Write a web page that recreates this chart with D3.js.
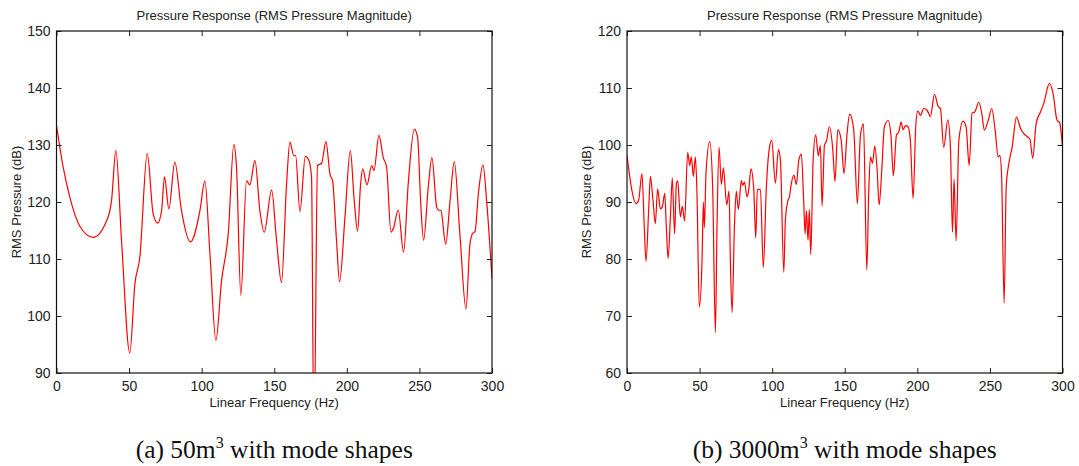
<!DOCTYPE html>
<html>
<head>
<meta charset="utf-8">
<script src="https://cdn.jsdelivr.net/npm/d3@7"></script>
<style>
  body { margin: 0; background: #fff; }
  svg text { font-family: "Liberation Sans", Arial, sans-serif; fill: #222; }
  .caption { font-family: "Liberation Serif", "DejaVu Serif", serif; fill: #111; }
</style>
</head>
<body>
<div id="chart"></div>
<script>
// readings: frequency (Hz) and RMS pressure (dB)
let freqA = [0, 4.6, 9.2, 16, 25.3, 34.5, 37.9, 40.9, 44.8, 50.5, 54, 57.4, 62.5, 66.6, 69.6, 72.4, 74.4, 77.4, 81.5,
    86.1, 92.3, 98.8, 102.2, 105.7, 109.8, 113.7, 118.3, 122.2, 124, 127, 130.9, 133.2, 136.7, 140.1, 143.1, 148.2,
    151.6, 155, 158.5, 160.8, 163.5, 164.7, 167.7, 171.4, 173.9, 175.7, 177.2, 177.5, 179.8, 182.6, 185.6, 188.4,
    190.2, 192.9, 195, 198.7, 202.4, 205.1, 207.4, 209.5, 210.9, 213.9, 217.1, 218.7, 222.1, 225.1, 227.4, 230.4,
    232, 235.4, 239.1, 242.3, 246.5, 248.8, 250.8, 252.9, 256.1, 258.6, 261.9, 263, 264.8, 268.1, 271.1, 274,
    277.9, 282.1, 284.8, 286.7, 288.3, 290.6, 293.8, 296.3, 300];
let pressA = [133.4, 126.1, 120.8, 115.8, 113.8, 116.7, 120.2, 129.0, 113.2, 93.5, 105.6, 110.3, 128.5, 117.9, 116.3,
    118.5, 124.4, 118.8, 127.0, 118.5, 113.0, 118.5, 123.7, 110.9, 95.7, 106.2, 114.4, 130.1, 126.1, 103.6, 123.7,
    123.0, 127.3, 118.5, 114.7, 122.1, 113.2, 105.9, 123.2, 130.5, 128.1, 128.2, 118.3, 128.0, 127.3, 124.3, 80,
    80, 126.4, 126.8, 130.6, 124.9, 123.7, 113.2, 106.0, 117.3, 129.0, 120.2, 114.9, 123.2, 125.8, 123.0, 126.4,
    125.5, 131.7, 127.8, 126.1, 114.7, 115.3, 118.6, 111.2, 123.2, 132.8, 131.3, 120.2, 113.3, 122.6, 127.8,
    119.1, 118.6, 118.5, 112.6, 120.2, 127.1, 114.3, 101.2, 112.6, 114.5, 114.8, 121.4, 126.5, 120.2, 106.5];

let freqB = [0, 3.4, 6.2, 8, 10.3, 11.9, 13.1, 14.9, 16.1, 17.9, 19.5, 21.1, 23, 24.3, 26, 27.1, 28.3, 29.9, 31.2,
    32.8, 34, 34.9, 36.8, 38.1, 39.7, 41.8, 43.2, 44.3, 45.7, 47.1, 48.2, 49.8, 51.7, 52.6, 53.3, 54.4, 57, 59,
    60.9, 62, 63.4, 65, 66.4, 68.7, 70.3, 71.2, 72.4, 74, 75.3, 76.7, 78.8, 79.7, 80.9, 82.7, 83.8, 85.4, 87.3,
    88.7, 89.8, 91.9, 93.9, 96, 98.1, 99.7, 102.2, 104.3, 105.7, 108, 109.1, 110.9, 111.9, 113, 114.9, 116.7,
    118.3, 120.1, 121.7, 122.7, 123.6, 124.7, 125.6, 126.6, 128.2, 130, 131.8, 133.2, 134.4, 136, 137.4, 139.4,
    141.7, 143.3, 145.2, 147.5, 149.5, 151.6, 153.4, 156.2, 158.7, 160.8, 162.9, 165.2, 166.5, 167.7, 169.1,
    170.7, 172.3, 173.7, 175.5, 177.3, 179.9, 181.9, 183.5, 185.6, 187.2, 188.8, 190.2, 192, 193.6, 195.2, 197.1,
    198.9, 200.3, 202.1, 204.4, 206.7, 209, 211.8, 214.3, 215.9, 218.2, 221, 222.8, 224.2, 225.3, 226.7, 228.6,
    231.5, 233.6, 235.7, 237.7, 239.6, 242.3, 244.4, 246.2, 248.8, 251.3, 253.6, 255.7, 256.8, 258, 259.8, 261.2,
    263, 265.3, 268.3, 271.1, 273.3, 276.1, 277.5, 279.5, 281.8, 284.8, 287.1, 291, 293.5, 296.3, 297.9, 300];
let pressB = [98.2, 92.0, 89.7, 90.3, 95.0, 85.6, 79.6, 88.5, 94.5, 90.3, 86.2, 92.3, 88.8, 89.1, 91.5, 85.6, 80.1,
    87.4, 94.2, 84.4, 93.2, 93.7, 87.4, 89.3, 86.7, 98.7, 96.4, 97.9, 94.5, 97.9, 91.5, 71.6, 79.8, 90.0, 85.5,
    95.0, 100.6, 92.6, 67.1, 85.6, 99.6, 93.1, 96.0, 89.5, 91.9, 79.8, 70.6, 85.6, 91.9, 88.7, 93.8, 92.9, 93.5,
    90.9, 92.0, 95.8, 92.3, 83.7, 92.2, 92.2, 78.5, 92.6, 99.5, 100.8, 93.3, 99.2, 97.3, 77.7, 86.8, 90.3, 90.9,
    92.9, 94.7, 93.1, 97.3, 98.4, 90.3, 84.4, 88.5, 83.3, 88.7, 80.8, 97.3, 101.8, 98.1, 99.9, 89.3, 99.9, 100.7,
    103.2, 99.4, 93.6, 102.7, 100.9, 95.0, 102.0, 105.4, 102.6, 89.7, 101.7, 103.7, 78.1, 91.5, 97.9, 96.8, 99.8,
    95.6, 89.5, 95.6, 103.2, 104.3, 101.4, 94.6, 101.7, 102.3, 104.0, 102.7, 103.4, 103.2, 100.8, 90.6, 103.2,
    106.0, 105.2, 106.4, 106.1, 105.0, 108.9, 106.8, 106.4, 99.6, 104.4, 99.6, 84.7, 94.0, 83.2, 100.8, 104.2,
    103.2, 96.4, 105.6, 105.8, 107.5, 105.5, 102.6, 104.3, 106.4, 102.6, 97.9, 98.2, 95.0, 72.3, 92.6, 96.7, 99.6,
    104.9, 102.9, 102.0, 101.4, 101.1, 97.7, 103.7, 105.8, 107.3, 110.8, 109.0, 104.3, 104.0, 99.8];

let xTicks = [0, 50, 100, 150, 200, 250, 300];
let yTicksA = [90, 100, 110, 120, 130, 140, 150];
let yTicksB = [60, 70, 80, 90, 100, 110, 120];

let titleText = "Pressure Response (RMS Pressure Magnitude)";
let xLabelText = "Linear Frequency (Hz)";
let yLabelText = "RMS Pressure (dB)";

let width = 1079, height = 466;

let svg = d3.select("#chart").append("svg")
    .attr("width", width)
    .attr("height", height);

function drawPanel(id, left, freq, press, yTicks, caption, sup, rest) {
    let plot = { left: left, top: 31, width: 435.5, height: 342 };

    let x = d3.scaleLinear().domain([0, 300]).range([0, plot.width]);
    let y = d3.scaleLinear().domain([yTicks[0], yTicks[yTicks.length - 1]]).range([plot.height, 0]);

    let g = svg.append("g")
        .attr("transform", `translate(${plot.left},${plot.top})`);

    g.append("clipPath").attr("id", "clip-" + id)
        .append("rect").attr("width", plot.width).attr("height", plot.height);

    let pts = freq.map((f, i) => ({ f: f, p: press[i] }));

    let line = d3.line()
        .x(d => x(d.f))
        .y(d => y(d.p))
        .curve(d3.curveMonotoneX);

    g.append("path")
        .datum(pts)
        .attr("clip-path", `url(#clip-${id})`)
        .attr("fill", "none")
        .attr("stroke", "#ff0000")
        .attr("stroke-width", 1.2)
        .attr("d", line);

    // inward ticks on all four sides, matlab style
    let tickLen = 5;
    let axes = [
        d3.axisBottom(x).tickValues(xTicks).tickSizeInner(-tickLen).tickSizeOuter(0).tickPadding(8),
        d3.axisTop(x).tickValues(xTicks).tickSizeInner(-tickLen).tickSizeOuter(0).tickFormat(""),
        d3.axisLeft(y).tickValues(yTicks).tickSizeInner(-tickLen).tickSizeOuter(0).tickPadding(6),
        d3.axisRight(y).tickValues(yTicks).tickSizeInner(-tickLen).tickSizeOuter(0).tickFormat("")
    ];
    let shifts = [[0, plot.height], [0, 0], [0, 0], [plot.width, 0]];
    axes.forEach((a, i) => {
        let ax = g.append("g")
            .attr("transform", `translate(${shifts[i][0]},${shifts[i][1]})`)
            .call(a);
        ax.select(".domain").remove();
        ax.selectAll("line").attr("stroke", "#222");
        ax.selectAll("text").style("font-size", "14px").attr("fill", "#222");
    });

    g.append("rect")
        .attr("width", plot.width)
        .attr("height", plot.height)
        .attr("fill", "none")
        .attr("stroke", "#111")
        .attr("stroke-width", 1.2);

    g.append("text")
        .attr("x", plot.width / 2)
        .attr("y", -11)
        .attr("text-anchor", "middle")
        .style("font-size", "13px")
        .text(titleText);

    g.append("text")
        .attr("x", plot.width / 2)
        .attr("y", plot.height + 34)
        .attr("text-anchor", "middle")
        .style("font-size", "13px")
        .text(xLabelText);

    g.append("text")
        .attr("transform", `translate(-36,${plot.height / 2}) rotate(-90)`)
        .attr("text-anchor", "middle")
        .style("font-size", "13px")
        .text(yLabelText);

    let cap = g.append("text")
        .attr("class", "caption")
        .attr("x", plot.width / 2)
        .attr("y", 427)
        .attr("text-anchor", "middle")
        .style("font-size", "25.5px");
    cap.append("tspan").text(caption);
    cap.append("tspan").attr("dy", -10).style("font-size", "16px").text(sup);
    cap.append("tspan").attr("dy", 10).text(rest);
}

drawPanel("a", 56.5, freqA, pressA, yTicksA, "(a) 50m", "3", " with mode shapes");
drawPanel("b", 627, freqB, pressB, yTicksB, "(b) 3000m", "3", " with mode shapes");
</script>
</body>
</html>
